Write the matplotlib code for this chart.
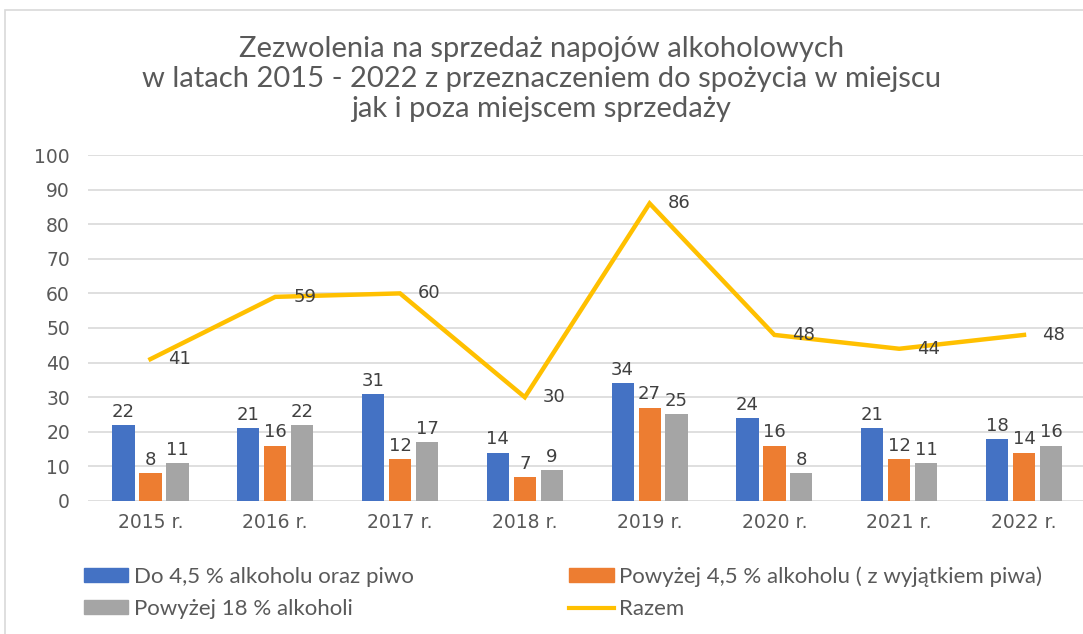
import numpy as np
import matplotlib
matplotlib.use("Agg")
import matplotlib.pyplot as plt
from matplotlib.patches import Patch, Rectangle
from matplotlib.lines import Line2D

# dane
lata = ["2015 r.", "2016 r.", "2017 r.", "2018 r.", "2019 r.", "2020 r.", "2021 r.", "2022 r."]
do_45 = [22, 21, 31, 14, 34, 24, 21, 18]
powyzej_45 = [8, 16, 12, 7, 27, 16, 12, 14]
powyzej_18 = [11, 22, 17, 9, 25, 8, 11, 16]
razem = [41, 59, 60, 30, 86, 48, 44, 48]

nazwy = ["Do 4,5 % alkoholu oraz piwo",
         "Powyżej 4,5 % alkoholu ( z wyjątkiem piwa)",
         "Powyżej 18 % alkoholi",
         "Razem"]
kolory = ["#4472C4", "#ED7D31", "#A5A5A5", "#FFC000"]

plt.rcParams['font.family'] = ['DejaVu Sans']
waska = ['Lato', 'DejaVu Sans']
tekst = "#595959"

fig = plt.figure(figsize=(10.83, 6.34), dpi=100)
ax = fig.add_axes([0.0813, 0.2098, 0.9187, 0.5457])

# ramka wykresu
fig.patches.append(Rectangle((5 / 1083, -0.1), 1.2, (634 - 10) / 634 + 0.1,
                             transform=fig.transFigure, fill=False,
                             edgecolor="#D9D9D9", linewidth=1.2))

x = np.arange(len(lata))
szer = 0.178
krok = 0.216
serie = [do_45, powyzej_45, powyzej_18]
for i, (dane, kol) in enumerate(zip(serie, kolory[:3])):
    pos = x + (i - 1) * krok
    ax.bar(pos, dane, width=szer, color=kol, zorder=2)
    for px, v in zip(pos, dane):
        ax.annotate(str(v), (px, v), xytext=(0, 3), textcoords="offset points",
                    ha="center", va="bottom", fontsize=13, color="#404040")

ax.plot(x, razem, color=kolory[3], linewidth=3.2, zorder=3, solid_joinstyle="miter")
for px, v in zip(x, razem):
    ax.annotate(str(v), (px, v), xytext=(13, 0), textcoords="offset points",
                ha="left", va="center", fontsize=13, color="#404040", zorder=4)

ax.set_ylim(0, 100)
ax.set_yticks(np.arange(0, 101, 10))
ax.set_xlim(-0.5, -0.5 + 995 / 124.8)
ax.set_xticks(x)
ax.set_xticklabels(lata)
ax.tick_params(axis="both", length=0, labelsize=13.5, colors=tekst)
ax.tick_params(axis="y", pad=13)
ax.tick_params(axis="x", pad=9)
ax.grid(axis="y", color="#D9D9D9", linewidth=1.2, zorder=0)
ax.set_axisbelow(True)
for s in ax.spines.values():
    s.set_visible(False)

fig.text(0.5, 0.875,
         "Zezwolenia na sprzedaż napojów alkoholowych\n"
         "w latach 2015 - 2022 z przeznaczeniem do spożycia w miejscu\n"
         "jak i poza miejscem sprzedaży",
         ha="center", va="center", fontsize=21, color=tekst,
         family=waska, linespacing=1.2)

# legenda
uchwyty = [Patch(color=kolory[0]), Patch(color=kolory[1]),
           Patch(color=kolory[2]), Line2D([0], [0], color=kolory[3], linewidth=3)]
opcje = dict(loc="upper left", frameon=False, labelcolor=tekst,
             prop={"family": waska, "size": 16},
             handlelength=2.0, handleheight=0.6, handletextpad=0.25,
             labelspacing=0.55)
fig.legend([uchwyty[0], uchwyty[2]], [nazwy[0], nazwy[2]],
           bbox_to_anchor=(0.059, 0.138), **opcje)
fig.legend([uchwyty[1], uchwyty[3]], [nazwy[1], nazwy[3]],
           bbox_to_anchor=(0.507, 0.138), **opcje)

fig.savefig("out.png", dpi=100)
